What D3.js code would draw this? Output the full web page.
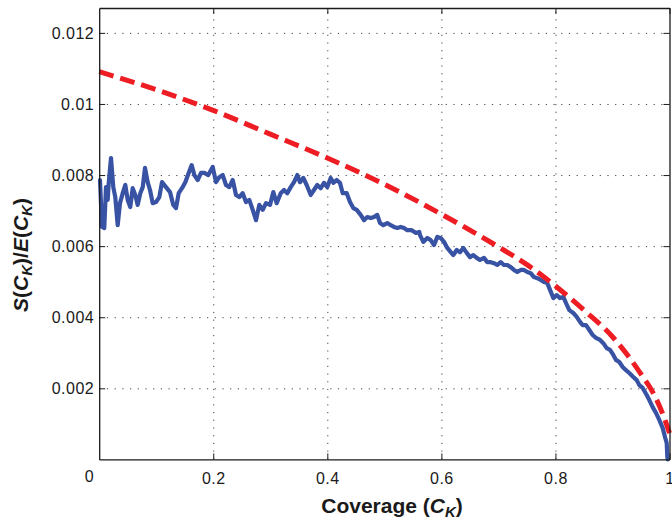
<!DOCTYPE html>
<html>
<head>
<meta charset="utf-8">
<script src="https://cdn.jsdelivr.net/npm/d3@7"></script>
<style>
  html, body { margin: 0; padding: 0; background: #fff; }
  svg { display: block; font-family: "Liberation Sans", Arial, Helvetica, sans-serif; }
  .tick text { font-size: 16px; letter-spacing: 0.5px; fill: #1a1a1a; }
</style>
</head>
<body>
<svg id="chart" width="672" height="519"></svg>
<script>
// Coverage values (x) and the measured ratio S(C_K)/E(C_K) (blue, solid)
const coverage = [
  0.0014, 0.0049, 0.0089, 0.0119, 0.0149, 0.0167, 0.0207, 0.0247, 0.0282, 0.0324,
  0.0365, 0.0412, 0.0458, 0.0500, 0.0545, 0.0587, 0.0633, 0.0675, 0.0721, 0.0763,
  0.0803, 0.0850, 0.0891, 0.0938, 0.0996, 0.1054, 0.1101, 0.1171, 0.1242, 0.1299,
  0.1347, 0.1394, 0.1452, 0.1510, 0.1569, 0.1622, 0.1668, 0.1727, 0.1785, 0.1843,
  0.1913, 0.1990, 0.2048, 0.2106, 0.2166, 0.2223, 0.2281, 0.2341, 0.2399, 0.2457,
  0.2516, 0.2574, 0.2632, 0.2692, 0.2749, 0.2807, 0.2867, 0.2925, 0.2995, 0.3053,
  0.3112, 0.3183, 0.3240, 0.3298, 0.3358, 0.3416, 0.3474, 0.3521, 0.3579, 0.3638,
  0.3709, 0.3766, 0.3824, 0.3884, 0.3942, 0.4000, 0.4059, 0.4105, 0.4164, 0.4222,
  0.4270, 0.4340, 0.4398, 0.4456, 0.4515, 0.4585, 0.4643, 0.4701, 0.4761, 0.4819,
  0.4876, 0.4924, 0.4982, 0.5052, 0.5111, 0.5169, 0.5227, 0.5287, 0.5345, 0.5402,
  0.5480, 0.5555, 0.5613, 0.5625, 0.5683, 0.5753, 0.5813, 0.5871, 0.5929, 0.5988,
  0.6046, 0.6104, 0.6164, 0.6209, 0.6269, 0.6327, 0.6384, 0.6444, 0.6502, 0.6560,
  0.6619, 0.6677, 0.6747, 0.6805, 0.6865, 0.6923, 0.6981, 0.7040, 0.7098, 0.7156,
  0.7216, 0.7273, 0.7331, 0.7391, 0.7449, 0.7507, 0.7566, 0.7624, 0.7682, 0.7742,
  0.7799, 0.7857, 0.7905, 0.7963, 0.8022, 0.8080, 0.8138, 0.8185, 0.8243, 0.8313,
  0.8373, 0.8431, 0.8478, 0.8536, 0.8594, 0.8653, 0.8711, 0.8782, 0.8839, 0.8899,
  0.8957, 0.9015, 0.9062, 0.9120, 0.9179, 0.9237, 0.9295, 0.9365, 0.9425, 0.9471,
  0.9530, 0.9600, 0.9646, 0.9705, 0.9763, 0.9821, 0.9881, 0.9921, 0.9951, 0.9962,
  0.9969
];
const ratioMeasured = [
  0.00786, 0.00654, 0.00651, 0.00766, 0.00730, 0.00778, 0.00848, 0.00766, 0.00738, 0.00659,
  0.00721, 0.00749, 0.00772, 0.00730, 0.00710, 0.00763, 0.00744, 0.00716, 0.00749, 0.00766,
  0.00820, 0.00780, 0.00758, 0.00721, 0.00724, 0.00738, 0.00780, 0.00766, 0.00752, 0.00716,
  0.00707, 0.00749, 0.00763, 0.00780, 0.00806, 0.00828, 0.00800, 0.00786, 0.00806, 0.00806,
  0.00800, 0.00823, 0.00780, 0.00794, 0.00800, 0.00772, 0.00766, 0.00786, 0.00744, 0.00738,
  0.00749, 0.00724, 0.00730, 0.00702, 0.00673, 0.00716, 0.00702, 0.00721, 0.00716, 0.00752,
  0.00721, 0.00749, 0.00758, 0.00749, 0.00766, 0.00780, 0.00800, 0.00780, 0.00792, 0.00772,
  0.00744, 0.00758, 0.00772, 0.00763, 0.00778, 0.00766, 0.00792, 0.00778, 0.00786, 0.00778,
  0.00749, 0.00749, 0.00724, 0.00707, 0.00702, 0.00688, 0.00673, 0.00682, 0.00679, 0.00682,
  0.00688, 0.00665, 0.00659, 0.00665, 0.00659, 0.00654, 0.00651, 0.00654, 0.00651, 0.00645,
  0.00645, 0.00637, 0.00640, 0.00631, 0.00612, 0.00623, 0.00617, 0.00603, 0.00626, 0.00623,
  0.00612, 0.00595, 0.00583, 0.00575, 0.00589, 0.00583, 0.00595, 0.00581, 0.00569, 0.00575,
  0.00567, 0.00561, 0.00567, 0.00555, 0.00555, 0.00552, 0.00547, 0.00555, 0.00547, 0.00547,
  0.00541, 0.00533, 0.00527, 0.00533, 0.00533, 0.00527, 0.00524, 0.00513, 0.00510, 0.00505,
  0.00499, 0.00496, 0.00477, 0.00454, 0.00462, 0.00454, 0.00457, 0.00440, 0.00420, 0.00412,
  0.00401, 0.00387, 0.00378, 0.00378, 0.00364, 0.00350, 0.00342, 0.00336, 0.00327, 0.00313,
  0.00308, 0.00294, 0.00280, 0.00274, 0.00260, 0.00251, 0.00243, 0.00232, 0.00223, 0.00209,
  0.00201, 0.00181, 0.00167, 0.00147, 0.00131, 0.00111, 0.00088, 0.00063, 0.00046, 0.00007,
  0.00000
];

// Theoretical ratio (red, dashed)
const coverageModel = [
  0.00, 0.10, 0.20, 0.30, 0.40, 0.50, 0.60, 0.70, 0.75, 0.80,
  0.85, 0.90, 0.95, 0.975, 0.99, 1.00
];
const ratioModel = [
  0.01091, 0.01040, 0.00982, 0.00915, 0.00848, 0.00774, 0.00690, 0.00598, 0.00548, 0.00488,
  0.00420, 0.00345, 0.00240, 0.00176, 0.00120, 0.00074
];

// Axis ticks
const xTicks = [0.2, 0.4, 0.6, 0.8, 1];
const yTicks = [0.002, 0.004, 0.006, 0.008, 0.01, 0.012];

const svg = d3.select("#chart");
const W = 672, H = 519;
const margin = { left: 99.2, top: 8, right: 2.5, bottom: 59.6 };
const iw = W - margin.left - margin.right;
const ih = H - margin.top - margin.bottom;

const x = d3.scaleLinear().domain([0, 1]).range([0, iw]);
const y = d3.scaleLinear().domain([0, 0.0127]).range([ih, 0]);

const g = svg.append("g").attr("transform", `translate(${margin.left},${margin.top})`);

// dotted grid
const gridStyle = sel => {
  sel.select(".domain").remove();
  sel.selectAll(".tick text").remove();
  sel.selectAll(".tick line")
    .attr("stroke", "#444")
    .attr("stroke-width", 1)
    .attr("stroke-dasharray", "1.2,6.5");
};
g.append("g")
  .attr("transform", `translate(0,${ih})`)
  .call(d3.axisBottom(x).tickValues(xTicks.filter(v => v < 1)).tickSize(-ih))
  .call(gridStyle);
g.append("g")
  .call(d3.axisLeft(y).tickValues(yTicks).tickSize(-iw))
  .call(gridStyle);

// data lines
const blueData = coverage.map((c, i) => [c, ratioMeasured[i]]);
const redData = coverageModel.map((c, i) => [c, ratioModel[i]]);
const line = d3.line().x(d => x(d[0])).y(d => y(d[1]));

g.append("path")
  .datum(blueData)
  .attr("d", line)
  .attr("fill", "none")
  .attr("stroke", "#3953a4")
  .attr("stroke-width", 4.2)
  .attr("stroke-linejoin", "round")
  .attr("stroke-linecap", "round");

g.append("path")
  .datum(redData)
  .attr("d", d3.line().curve(d3.curveMonotoneX).x(d => x(d[0])).y(d => y(d[1])))
  .attr("fill", "none")
  .attr("stroke", "#ee1d24")
  .attr("stroke-width", 5)
  .attr("stroke-dasharray", "15,7");

// axes with inward ticks (box style)
const axisStyle = sel => {
  sel.select(".domain").attr("stroke", "#1a1a1a").attr("stroke-width", 1.3);
  sel.selectAll(".tick line").attr("stroke", "#1a1a1a").attr("stroke-width", 1);
};
const fmt = d3.format("");
g.append("g")
  .attr("transform", `translate(0,${ih})`)
  .call(d3.axisBottom(x).tickValues(xTicks).tickSizeInner(-6).tickSizeOuter(0)
        .tickPadding(13).tickFormat(fmt))
  .call(axisStyle)
  .call(s => s.selectAll(".tick text").attr("font-family", null).attr("font-size", null));
g.append("g")
  .call(d3.axisLeft(y).tickValues(yTicks).tickSizeInner(-6).tickSizeOuter(0)
        .tickPadding(5).tickFormat(fmt))
  .call(axisStyle)
  .call(s => s.selectAll(".tick text").attr("font-family", null).attr("font-size", null));
g.append("g")
  .call(d3.axisTop(x).tickValues(xTicks).tickSizeInner(-6).tickSizeOuter(0).tickFormat(""))
  .call(axisStyle);
g.append("g")
  .attr("transform", `translate(${iw},0)`)
  .call(d3.axisRight(y).tickValues(yTicks).tickSizeInner(-6).tickSizeOuter(0).tickFormat(""))
  .call(axisStyle);

// origin label
g.append("text")
  .attr("x", -5)
  .attr("y", ih + 22.5)
  .attr("text-anchor", "end")
  .attr("font-size", 16)
  .attr("letter-spacing", "0.5px")
  .attr("fill", "#1a1a1a")
  .text("0");

// x axis label
const xl = svg.append("text")
  .attr("x", 392)
  .attr("y", 513)
  .attr("text-anchor", "middle")
  .attr("font-size", 21)
  .attr("font-weight", "bold")
  .attr("fill", "#1a1a1a");
xl.append("tspan").text("Coverage (");
xl.append("tspan").attr("font-style", "italic").text("C");
xl.append("tspan").attr("font-style", "italic").attr("font-size", 15).attr("dy", 4).text("K");
xl.append("tspan").attr("dy", -4).text(")");

// y axis label
const yl = svg.append("text")
  .attr("transform", `translate(28,255) rotate(-90)`)
  .attr("text-anchor", "middle")
  .attr("font-size", 21)
  .attr("font-weight", "bold")
  .attr("fill", "#1a1a1a");
yl.append("tspan").attr("font-style", "italic").text("S");
yl.append("tspan").text("(");
yl.append("tspan").attr("font-style", "italic").text("C");
yl.append("tspan").attr("font-style", "italic").attr("font-size", 15).attr("dy", 4).text("K");
yl.append("tspan").attr("dy", -4).text(")/");
yl.append("tspan").attr("font-style", "italic").text("E");
yl.append("tspan").text("(");
yl.append("tspan").attr("font-style", "italic").text("C");
yl.append("tspan").attr("font-style", "italic").attr("font-size", 15).attr("dy", 4).text("K");
yl.append("tspan").attr("dy", -4).text(")");
</script>
</body>
</html>
